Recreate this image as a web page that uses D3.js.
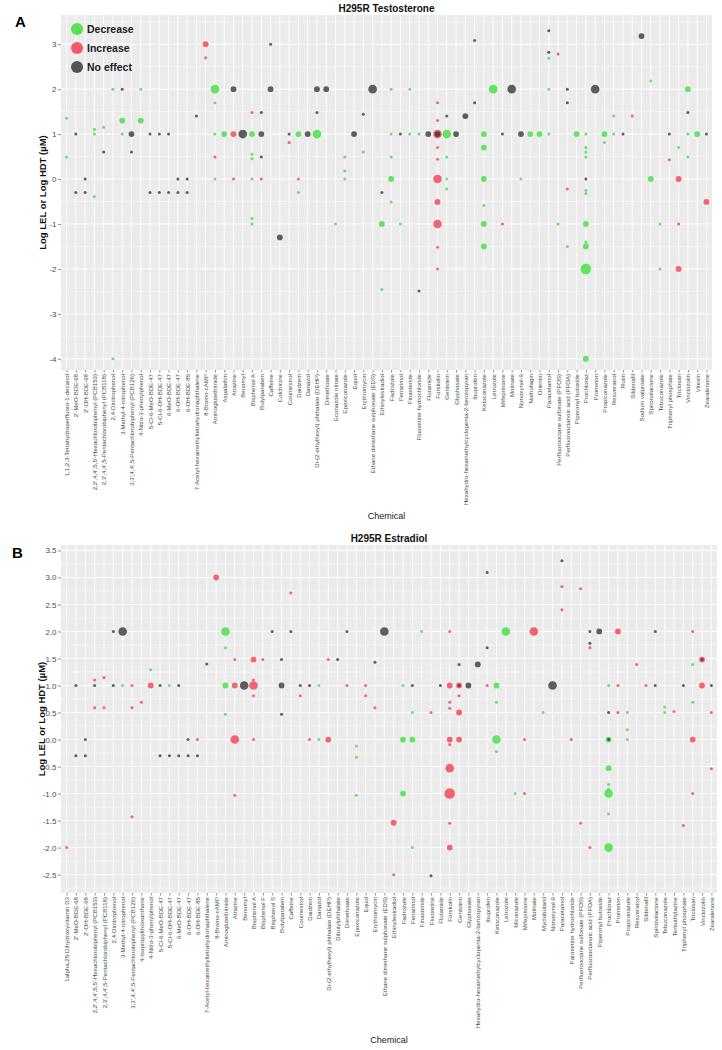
<!DOCTYPE html>
<html><head><meta charset="utf-8">
<script src="https://cdn.jsdelivr.net/npm/d3@7"></script>
<style>body{margin:0;background:#fff} text{font-family:"Liberation Sans",Arial,sans-serif}</style>
</head><body><svg id="c" width="722" height="1050"></svg>
<script>
// ---------------- DATA ----------------
const chemicalsA = ["1,1,2,3-Tetrahydroperfluoro-1-decanol","2'-MeO-BDE-68","2'-OH-BDE-68","2,2',4,4',5,5'-Hexachlorobiphenyl (PCB153)","2,3',4,4',5-Pentachlorobiphenyl (PCB118)","2,4-Dinitrophenol","3-Methyl-4-nitrophenol","3,3',4,4',5-Pentachlorobiphenyl (PCB126)","4-Nitro-3-phenylphenol","5-Cl-6-MeO-BDE-47","5-Cl-6-OH-BDE-47","6-MeO-BDE-47","6-OH-BDE-47","6-OH-BDE-85","7-Acetyl-hexamethyltetrahydronaphthalene","8-Bromo-cAMP","Aminoglutethimide","Aspalathin","Atrazine","Benomyl","Bisphenol A","Butylparaben","Caffeine","Colchicine","Coumestrol","Daidzein","Danazol","Di-(2-ethylhexyl) phthalate (DEHP)","Dimethoate","Econazole nitrate","Epoxiconazole","Equol","Erythromycin","Ethane dimethane sulphonate (EDS)","Ethinylestradiol","Fadrozole","Fenarimol","Finasteride","Fluoxetine hydrochloride","Flutamide","Forskolin","Genistein","Glyphosate","Hexahydro-hexamethylcyclopenta-2-benzopyran","Ibuprofen","Ketoconazole","Letrozole","Mifepristone","Molinate","Nonoxynol-9","Nothofagin","Orientin","Paracetamol","Perfluorooctane sulfonate (PFOS)","Perfluorooctanoic acid (PFOA)","Piperonyl butoxide","Prochloraz","Prometon","Propiconazole","Resveratrol","Rutin","Sildenafil","Sodium valproate","Spironolactone","Tebuconazole","Triphenyl phosphate","Triclosan","Vinclozolin","Vitexin","Zearalenone"];

// [chemical index, log LEL/HDT (µM), effect D/I/N, size class 1-4]
const pointsA = [
[15,3.0,"I",2],[15,2.7,"I",1],[22,3.0,"N",1],[5,2,"D",1],[6,2,"N",1],[8,2,"D",1],[16,2,"D",3],[18,2,"N",2],[22,2,"N",2],[27,2,"N",2],[28,2,"N",2],[33,2,"N",3],
[0,1.35,"D",1],[6,1.3,"D",2],[8,1.3,"D",2],[14,1.4,"N",1],[20,1.48,"I",1],[21,1.48,"N",1],[27,1.48,"N",1],[32,1.44,"N",1],[16,1.7,"D",1],[3,1.11,"D",1],[4,1.15,"D",1],
[1,1,"N",1],[3,1,"D",1],[6,1,"D",1],[7,1,"N",2],[9,1,"N",1],[10,1,"N",1],[11,1,"N",1],[16,1,"D",1],[17,1,"D",2],[18,1,"I",2],[19,1,"N",3],[20,1,"D",2],[21,1,"N",2],[24,1,"N",1],[25,1,"D",2],[26,1,"N",2],[27,1,"D",3],[31,1,"N",2],
[24,0.81,"I",1],[4,0.6,"N",1],[7,0.6,"N",1],[0,0.49,"D",1],[16,0.49,"I",1],[20,0.55,"D",1],[20,0.45,"D",1],[21,0.49,"N",1],[30,0.49,"D",1],[32,0.6,"D",1],[30,0.18,"D",1],
[2,0,"N",1],[12,0,"N",1],[13,0,"N",1],[16,0,"D",1],[18,0,"I",1],[20,0,"D",1],[21,0,"I",1],[25,0,"I",1],[30,0,"D",1],
[1,-0.3,"N",1],[2,-0.3,"N",1],[3,-0.39,"D",1],[9,-0.3,"N",1],[10,-0.3,"N",1],[11,-0.3,"N",1],[12,-0.3,"N",1],[13,-0.3,"N",1],[25,-0.3,"D",1],[34,-0.3,"N",1],
[20,-0.88,"D",1],[20,-1.0,"D",1],[29,-1,"D",1],[34,-1,"D",2],[23,-1.3,"N",2],[34,-2.46,"D",1],[5,-4,"D",1],
[52,3.3,"N",1],[44,3.08,"N",1],[62,3.18,"N",2],[52,2.82,"N",1],[53,2.78,"I",1],[52,2.69,"D",1],[63,2.18,"D",1],
[35,2,"D",1],[37,2,"D",1],[46,2,"D",3],[48,2,"N",3],[52,2,"D",1],[54,2,"N",1],[57,2,"N",3],[67,2,"D",2],
[40,1.7,"I",1],[44,1.7,"N",1],[54,1.7,"N",1],[41,1.4,"N",1],[43,1.4,"N",2],[59,1.4,"D",1],[61,1.4,"I",1],[67,1.48,"N",1],[40,1.3,"I",1],
[35,1,"D",1],[36,1,"N",1],[37,1,"D",1],[38,1,"D",1],[39,1,"N",2],[40,1,"I",3],[40,1,"N",2],[41,1,"D",3],[42,1,"N",2],[45,1,"D",2],[47,1,"N",1],[49,1,"N",2],[50,1,"D",2],[51,1,"D",2],[52,1,"D",1],[55,1,"D",2],[56,1,"D",1],[58,1,"D",2],[59,1,"D",1],[60,1,"N",1],[65,1,"N",1],[67,1,"D",1],[68,1,"D",2],[69,1,"N",1],
[40,0.7,"I",1],[45,0.7,"D",2],[56,0.7,"D",1],[56,0.6,"D",1],[56,0.49,"D",1],[58,0.81,"D",1],[66,0.7,"D",1],
[35,0.49,"D",1],[40,0.44,"I",1],[41,0.49,"D",1],[65,0.43,"I",1],[67,0.49,"D",1],
[35,0,"D",2],[40,0,"I",3],[41,0,"D",1],[45,0,"D",2],[49,0,"D",1],[56,0,"N",1],[63,0,"D",2],[66,0,"I",2],
[41,-0.22,"D",1],[54,-0.22,"I",1],[56,-0.25,"D",1],[56,-0.32,"D",1],
[35,-0.51,"D",1],[40,-0.51,"I",2],[45,-0.59,"D",1],[69,-0.51,"I",2],
[36,-1,"D",1],[40,-1,"I",3],[45,-1,"D",2],[47,-1,"I",1],[53,-1,"D",1],[56,-1,"D",2],[64,-1,"D",1],[66,-1,"I",1],
[40,-1.52,"I",1],[45,-1.5,"D",2],[54,-1.5,"D",1],[56,-1.5,"D",2],[56,-1.4,"D",1],
[40,-2,"I",1],[56,-2,"D",4],[64,-2,"D",1],[66,-2,"I",2],[38,-2.49,"N",1],[56,-4,"D",2]
];
const yTicksA = [-4,-3,-2,-1,0,1,2,3];

const chemicalsB = ["1alpha,25-Dihydroxyvitamin D3","2'-MeO-BDE-68","2'-OH-BDE-68","2,2',4,4',5,5'-Hexachlorobiphenyl (PCB153)","2,3',4,4',5-Pentachlorobiphenyl (PCB118)","2,4-Dinitrophenol","3-Methyl-4-nitrophenol","3,3',4,4',5-Pentachlorobiphenyl (PCB126)","4-Isopropylthioxanthone","4-Nitro-3-phenylphenol","5-Cl-6-MeO-BDE-47","5-Cl-6-OH-BDE-47","6-MeO-BDE-47","6-OH-BDE-47","6-OH-BDE-85","7-Acetyl-hexamethyltetrahydronaphthalene","8-Bromo-cAMP","Aminoglutethimide","Atrazine","Benomyl","Bisphenol A","Bisphenol F","Bisphenol S","Butylparaben","Caffeine","Coumestrol","Daidzein","Danazol","Di-(2-ethylhexyl) phthalate (DEHP)","Dibutylphthalate","Dimethoate","Epoxiconazole","Equol","Erythromycin","Ethane dimethane sulphonate (EDS)","Ethinylestradiol","Fadrozole","Fenarimol","Finasteride","Fluoxetine","Flutamide","Forskolin","Genistein","Glyphosate","Hexahydro-hexamethylcyclopenta-2-benzopyran","Ibuprofen","Ketoconazole","Letrozole","Miconazole","Mifepristone","Molinate","Myclobutanil","Nonoxynol-9","Paracetamol","Paroxetine hydrochloride","Perfluorooctane sulfonate (PFOS)","Perfluorooctanoic acid (PFOA)","Piperonyl butoxide","Prochloraz","Prometon","Propiconazole","Resveratrol","Sildenafil","Spironolactone","Tebuconazole","Terbuthylazine","Triphenyl phosphate","Triclosan","Vinclozolin","Zearalenone"];

const pointsB = [
[16,3.0,"I",2],[24,2.71,"I",1],[5,2,"N",1],[6,2,"N",3],[17,2,"D",3],[22,2,"N",1],[24,2,"N",1],[30,2,"N",1],[34,2,"N",3],[17,1.7,"D",1],
[18,1.48,"I",1],[20,1.48,"I",2],[21,1.48,"I",1],[23,1.48,"N",1],[28,1.48,"I",1],[29,1.48,"N",1],[33,1.43,"N",1],[15,1.4,"N",1],[9,1.29,"D",1],[3,1.1,"I",1],[4,1.15,"I",1],[20,1.1,"I",1],
[1,1,"N",1],[3,1,"N",1],[5,1,"N",1],[6,1,"D",1],[7,1,"I",1],[9,1,"I",2],[10,1,"N",1],[11,1,"D",1],[12,1,"N",1],[17,1,"D",2],[18,1,"I",2],[19,1,"N",3],[20,1,"I",3],[23,1,"N",2],[25,1,"N",1],[26,1,"N",1],[27,1,"D",1],[30,1,"I",1],[32,1,"I",1],
[20,0.81,"I",1],[25,0.81,"I",1],[32,0.81,"I",1],[8,0.69,"I",1],[3,0.59,"I",1],[4,0.59,"I",1],[7,0.59,"I",1],[33,0.59,"I",1],[17,0.47,"D",1],[23,0.47,"N",1],
[2,0,"N",1],[13,0,"N",1],[14,0,"I",1],[18,0,"I",3],[20,0,"I",1],[26,0,"I",1],[27,0,"D",1],[28,0,"I",2],[31,-0.12,"D",1],[31,-0.33,"D",1],
[1,-0.3,"N",1],[2,-0.3,"N",1],[10,-0.3,"N",1],[11,-0.3,"N",1],[12,-0.3,"N",1],[13,-0.3,"N",1],[14,-0.3,"N",1],
[18,-1.03,"I",1],[31,-1.03,"D",1],[7,-1.43,"I",1],[0,-2.0,"I",1],
[53,3.31,"N",1],[45,3.09,"N",1],[53,2.83,"I",1],[55,2.79,"I",1],[53,2.4,"I",1],
[38,2,"D",1],[41,2,"I",1],[47,2,"D",3],[50,2,"I",3],[56,2,"N",1],[57,2,"N",2],[59,2,"I",2],[63,2,"N",1],[67,2,"I",1],
[45,1.7,"N",1],[56,1.78,"N",1],[56,1.7,"I",1],[42,1.39,"N",1],[44,1.39,"N",2],[61,1.39,"I",1],[67,1.39,"D",1],[68,1.48,"I",2],[68,1.48,"N",1],
[36,1,"D",1],[37,1,"N",1],[40,1,"N",1],[41,1,"I",2],[42,1,"I",2],[42,1,"N",1],[43,1,"N",2],[45,1,"I",1],[46,1,"D",2],[52,1,"N",3],[58,1,"D",1],[59,1,"I",1],[62,1,"I",1],[63,1,"N",1],[66,1,"N",1],[68,1,"I",2],[69,1,"N",1],
[42,0.81,"I",1],[41,0.69,"I",1],[41,0.58,"I",1],[46,0.69,"D",1],[67,0.69,"D",1],
[37,0.5,"D",1],[39,0.5,"I",1],[42,0.5,"I",2],[51,0.5,"D",1],[58,0.5,"N",1],[59,0.5,"I",1],[60,0.5,"D",1],[64,0.5,"D",1],[65,0.52,"I",1],[69,0.5,"I",1],[64,0.6,"D",1],[60,0.18,"D",1],
[36,0,"D",2],[37,0,"D",2],[41,0,"I",2],[41,-0.09,"I",1],[42,0,"I",2],[46,0,"D",3],[49,0,"I",1],[54,0,"I",1],[58,0,"D",2],[58,0,"N",1],[60,0,"D",1],[67,0,"I",2],
[46,-0.22,"D",1],[41,-0.53,"I",3],[58,-0.53,"D",2],[69,-0.54,"I",1],[58,-0.83,"D",1],[58,-0.92,"D",1],
[36,-1,"D",2],[41,-1,"I",4],[48,-1,"D",1],[49,-1,"I",1],[58,-1,"D",3],[67,-1,"I",1],[58,-1.38,"D",1],
[35,-1.54,"I",2],[41,-1.55,"I",1],[55,-1.55,"I",1],[66,-1.59,"I",1],
[37,-2,"D",1],[41,-2,"I",2],[56,-2,"I",1],[58,-2,"D",3],[35,-2.5,"I",1],[39,-2.52,"N",1]
];
const yTicksB = [-2.5,-2,-1.5,-1,-0.5,0,0.5,1,1.5,2,2.5,3,3.5];

const effectCodes = ["D","I","N"];
const effectLabels = ["Decrease","Increase","No effect"];
const sizeClasses = [1,2,3,4];

// ---------------- DRAW ----------------
const svg = d3.select("#c");
const color = d3.scaleOrdinal().domain(effectCodes).range(["#3fe03f","#f4404f","#383838"]);
const radius = d3.scaleOrdinal().domain(sizeClasses).range([1.5,2.9,4.3,5.3]);

function panel(o){
  const g = svg.append("g");
  const x = d3.scalePoint().domain(o.cats).range([o.x0,o.x1]).padding(0.6);
  const y = d3.scaleLinear().domain(o.yDom).range([o.y1,o.y0]);
  g.append("rect").attr("x",o.x0).attr("y",o.y0).attr("width",o.x1-o.x0).attr("height",o.y1-o.y0).attr("fill","#ebebeb");
  // minor horizontal grid
  const step = o.ticks[1]-o.ticks[0];
  const minor = d3.range(o.ticks[0]-step/2, o.yDom[1], step).filter(v=>v>o.yDom[0]);
  g.selectAll(".hmin").data(minor).join("line").attr("x1",o.x0).attr("x2",o.x1)
    .attr("y1",d=>y(d)).attr("y2",d=>y(d)).attr("stroke","#fff").attr("stroke-width",0.5);
  g.selectAll(".hmaj").data(o.ticks).join("line").attr("x1",o.x0).attr("x2",o.x1)
    .attr("y1",d=>y(d)).attr("y2",d=>y(d)).attr("stroke","#fff").attr("stroke-width",1);
  g.selectAll(".vmaj").data(o.cats).join("line").attr("y1",o.y0).attr("y2",o.y1)
    .attr("x1",d=>x(d)).attr("x2",d=>x(d)).attr("stroke","#fff").attr("stroke-width",0.9);
  // points
  const pts = o.pts.slice().sort((a,b)=>b[3]-a[3]);
  g.selectAll("circle.pt").data(pts).join("circle").attr("class","pt")
    .attr("cx",d=>x(o.cats[d[0]])).attr("cy",d=>y(d[1])).attr("r",d=>radius(d[3]))
    .attr("fill",d=>color(d[2])).attr("fill-opacity",0.8);
  // axes
  const ya = g.append("g").attr("transform",`translate(${o.x0},0)`)
    .call(d3.axisLeft(y).tickValues(o.ticks).tickSize(3).tickFormat(o.fmt));
  ya.select(".domain").remove();
  ya.selectAll("line").attr("stroke","#444").attr("stroke-width",0.6);
  ya.selectAll("text").attr("fill","#4d4d4d").style("font-size","8px").attr("x",-4.5);
  const xa = g.append("g").attr("transform",`translate(0,${o.y1})`)
    .call(d3.axisBottom(x).tickSize(2.5));
  xa.select(".domain").remove();
  xa.selectAll("line").attr("stroke","#444").attr("stroke-width",0.6);
  xa.selectAll("text").attr("transform","rotate(-90)").attr("x",-4).attr("y",0).attr("dy","0.33em")
    .style("text-anchor","end").attr("fill","#4d4d4d").style("font-size","6.1px");
  // titles
  g.append("text").attr("x",(o.x0+o.x1)/2).attr("y",o.y0-3).attr("text-anchor","middle")
    .style("font-weight","bold").style("font-size","10px").attr("fill","#111").text(o.title);
  g.append("text").attr("transform",`translate(${o.ylabX},${(o.y0+o.y1)/2}) rotate(-90)`).attr("text-anchor","middle")
    .style("font-weight","bold").style("font-size","9.5px").attr("fill","#111").text("Log LEL or Log HDT (µM)");
  g.append("text").attr("x",(o.x0+o.x1)/2).attr("y",o.xlabY).attr("text-anchor","middle")
    .style("font-size","9px").attr("fill","#222").text("Chemical");
  g.append("text").attr("x",o.letter[0]).attr("y",o.letter[1]).style("font-weight","bold")
    .style("font-size","15px").attr("fill","#000").text(o.letterText);
  return g;
}

const gA = panel({cats:chemicalsA, pts:pointsA, ticks:yTicksA, yDom:[-4.25,3.65], x0:61, x1:712, y0:15, y1:370,
  fmt:d=>String(d).replace("−","-"), title:"H295R Testosterone", ylabX:46, xlabY:519, letter:[15,27], letterText:"A"});
const gB = panel({cats:chemicalsB, pts:pointsB, ticks:yTicksB, yDom:[-2.84,3.6], x0:61, x1:717, y0:545, y1:893,
  fmt:d=>d.toFixed(1), title:"H295R Estradiol", ylabX:45, xlabY:1043, letter:[12,558], letterText:"B"});

// legend (panel A)
const lg = svg.append("g");
lg.selectAll("circle").data(effectCodes).join("circle")
  .attr("cx",77).attr("cy",(d,i)=>29+i*19).attr("r",6).attr("fill",d=>color(d)).attr("fill-opacity",0.85);
lg.selectAll("text").data(effectLabels).join("text")
  .attr("x",87).attr("y",(d,i)=>29+i*19).attr("dy","0.35em").style("font-weight","bold").style("font-size","10.5px")
  .attr("fill","#222").text(d=>d);
</script></body></html>
